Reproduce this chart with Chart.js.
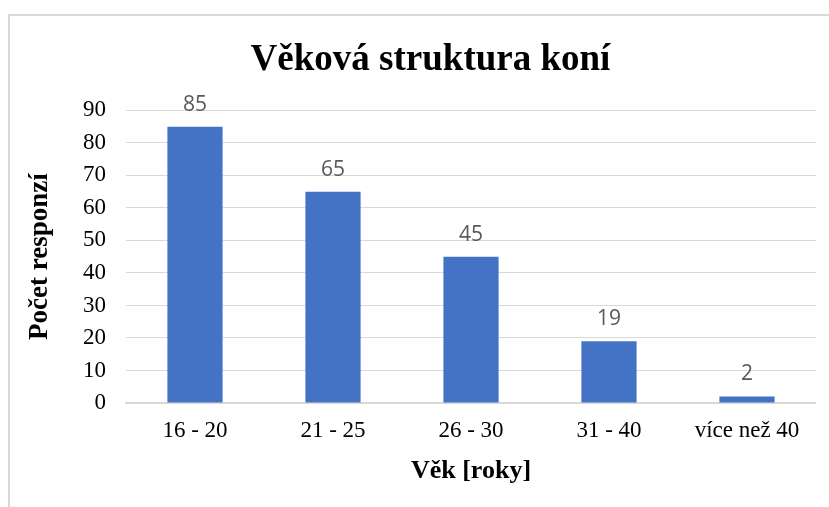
<!DOCTYPE html>
<html>
<head>
<meta charset="utf-8">
<script src="https://cdn.jsdelivr.net/npm/chart.js@4.4.1/dist/chart.umd.min.js"></script>
<style>
  html, body { margin: 0; padding: 0; background: #fff; overflow: hidden; }
  #frame {
    position: absolute; left: 8px; top: 14px; width: 900px; height: 600px;
    border-left: 2px solid #d9d9d9; border-top: 2px solid #d9d9d9;
  }
  #wrap { position: absolute; left: 0; top: 0; width: 816px; height: 507px; }
</style>
</head>
<body>
<div id="frame"></div>
<div id="wrap"><canvas id="chart"></canvas></div>
<script>
'use strict';

var categories = ['16 - 20', '21 - 25', '26 - 30', '31 - 40', 'více než 40'];
var responses = [85, 65, 45, 19, 2];
var yTicks = [0, 10, 20, 30, 40, 50, 60, 70, 80, 90];

var serif = '"Liberation Serif", "Times New Roman", serif';

// value labels above the bars
var barLabels = {
  id: 'barLabels',
  afterDatasetsDraw: function (chart) {
    var ctx = chart.ctx;
    var meta = chart.getDatasetMeta(0);
    ctx.save();
    ctx.font = '21px "Open Sans", "Liberation Sans", sans-serif';
    ctx.fillStyle = '#595959';
    ctx.textAlign = 'center';
    ctx.textBaseline = 'alphabetic';
    meta.data.forEach(function (bar, i) {
      ctx.fillText(String(responses[i]), bar.x, bar.y - 16);
    });
    ctx.restore();
  }
};

var ctx = document.getElementById('chart').getContext('2d');

new Chart(ctx, {
  type: 'bar',
  data: {
    labels: categories,
    datasets: [{
      data: responses,
      backgroundColor: '#4472C4',
      barPercentage: 0.4,
      categoryPercentage: 1
    }]
  },
  options: {
    responsive: true,
    maintainAspectRatio: false,
    animation: false,
    layout: { padding: { left: 45, right: 0, top: 0, bottom: 20 } },
    plugins: {
      legend: { display: false },
      tooltip: { enabled: false },
      title: {
        display: true,
        text: 'Věková struktura koní',
        color: '#000',
        font: { family: serif, size: 37, weight: 'bold' },
        padding: { top: 38, bottom: 28 }
      }
    },
    scales: {
      x: {
        grid: { display: false, drawTicks: false },
        border: { display: true, color: '#d9d9d9', width: 2 },
        ticks: {
          color: '#000',
          font: { family: serif, size: 23 },
          padding: 14,
          maxRotation: 0,
          autoSkip: false
        },
        title: {
          display: true,
          text: 'Věk [roky]',
          color: '#000',
          font: { family: serif, size: 26, weight: 'bold' },
          padding: { top: 0, bottom: 0 }
        },
        afterFit: function (scale) { scale.height = 84; }
      },
      y: {
        min: 0,
        max: 90,
        grid: { color: '#d9d9d9', lineWidth: 1, drawTicks: false },
        border: { display: false },
        afterBuildTicks: function (scale) {
          scale.ticks = yTicks.map(function (v) { return { value: v }; });
        },
        ticks: {
          color: '#000',
          font: { family: serif, size: 23 },
          padding: 20
        },
        title: {
          display: true,
          text: 'Počet responzí',
          color: '#000',
          font: { family: serif, size: 27, weight: 'bold' },
          padding: { top: -21, bottom: 0 }
        },
        afterFit: function (scale) { scale.width = 81; }
      }
    }
  },
  plugins: [barLabels]
});
</script>
</body>
</html>
